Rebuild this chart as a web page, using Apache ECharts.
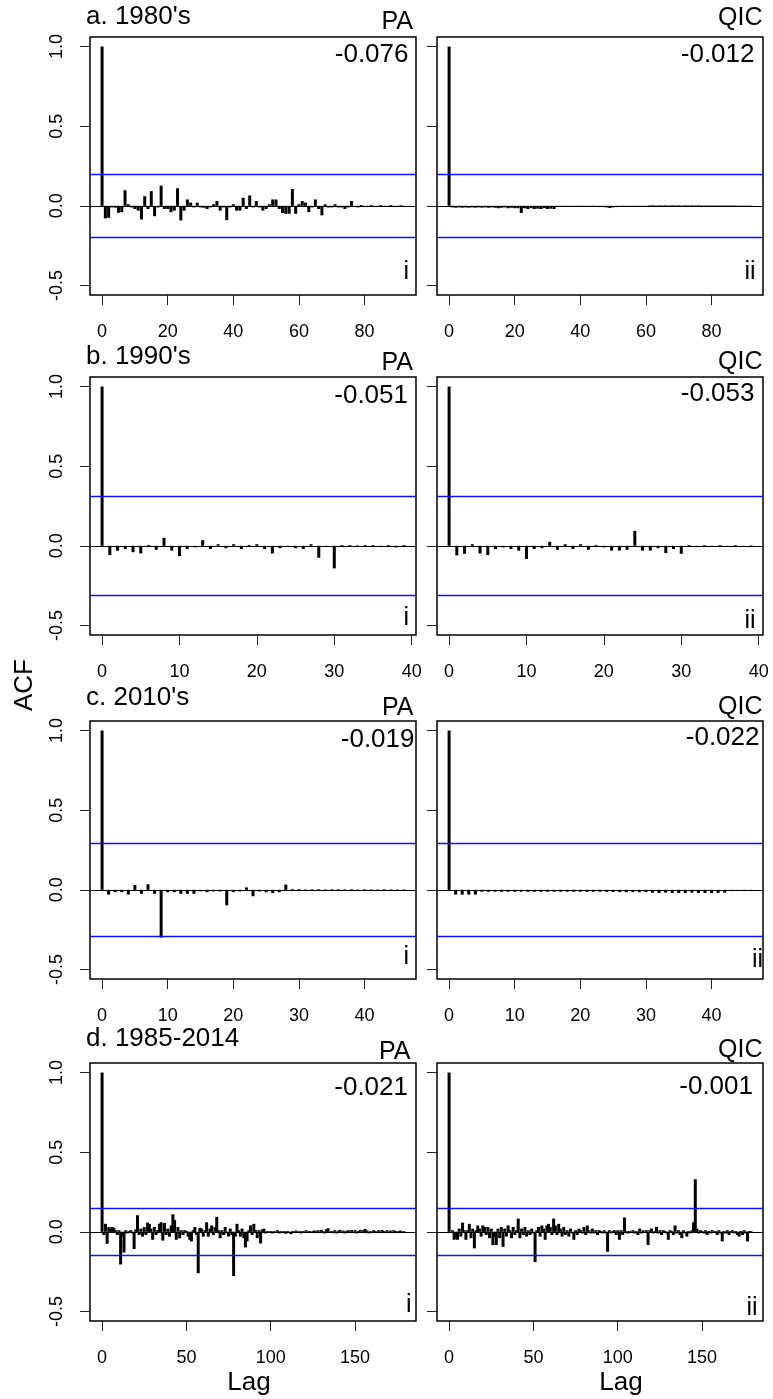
<!DOCTYPE html>
<html><head><meta charset="utf-8">
<script src="https://cdn.jsdelivr.net/npm/echarts@6/dist/echarts.min.js"></script>
<style>html,body{margin:0;padding:0;background:#fff}#c{width:773px;height:1399px}</style>
</head><body><div id="c"></div>
<script>
// ---------------- DATA ----------------
const rowTitles = ["a. 1980's", "b. 1990's", "c. 2010's", "d. 1985-2014"];
const colNames = ["PA", "QIC"];
const romanTags = ["i", "ii"];
const statLabels = [["-0.076", "-0.012"], ["-0.051", "-0.053"], ["-0.019", "-0.022"], ["-0.021", "-0.001"]];
const confLimits = [0.203, 0.31, 0.286, 0.146];
const xTickValues = [[0, 20, 40, 60, 80], [0, 10, 20, 30, 40], [0, 10, 20, 30, 40], [0, 50, 100, 150]];
const yTickValues = [-0.5, 0, 0.5, 1.0];

const acf_a_PA = [1.0, -0.079, -0.075, -0.01, -0.012, -0.044, -0.04, 0.098, 0.01, -0.01,
 -0.02, -0.03, -0.086, 0.06, -0.02, 0.092, -0.065, -0.01, 0.127, -0.02,
 -0.02, -0.04, -0.03, 0.11, -0.092, -0.03, 0.04, 0.02, -0.01, 0.02,
 -0.01, -0.012, -0.02, -0.01, 0.01, 0.03, -0.03, -0.01, -0.09, -0.01,
 0.01, -0.03, -0.03, 0.05, -0.02, 0.065, -0.01, 0.03, -0.01, -0.03,
 -0.02, 0.01, 0.04, 0.04, -0.02, -0.045, -0.05, -0.05, 0.105, -0.05,
 0.01, 0.03, 0.02, -0.04, -0.01, 0.04, -0.02, -0.06, 0.01, -0.01,
 -0.01, 0.01, -0.01, -0.01, -0.02, -0.01, 0.03, -0.005, -0.01, 0.005,
 -0.005, -0.008, 0.005, -0.005, -0.005, 0.005, -0.005, -0.005, 0.005, -0.005,
 -0.005, 0.004, -0.003];
const acf_a_QIC = [1.0, -0.01, -0.012, -0.01, -0.012, -0.01, -0.012, -0.01, -0.012, -0.01,
 -0.012, -0.01, -0.012, -0.01, -0.012, -0.015, -0.012, -0.01, -0.015, -0.012,
 -0.015, -0.015, -0.045, -0.015, -0.02, -0.015, -0.02, -0.018, -0.02, -0.015,
 -0.02, -0.018, -0.02, -0.006, -0.005, -0.006, -0.005, -0.006, -0.005, -0.006,
 -0.005, -0.006, -0.005, -0.006, -0.005, -0.006, -0.008, -0.008, -0.01, -0.014,
 -0.01, -0.008, -0.006, -0.006, -0.005, -0.006, -0.005, -0.006, -0.005, -0.004,
 -0.003, 0.003, 0.004, 0.003, 0.004, 0.003, 0.004, 0.003, 0.004, 0.003,
 0.004, 0.003, 0.004, 0.003, 0.004, 0.003, 0.004, 0.003, 0.003, 0.003,
 0.003, 0.003, 0.003, 0.003, 0.003, 0.003, 0.003, 0.003, 0.002, 0.002,
 0.002, 0.002, 0.002];
const acf_b_PA = [1.0, -0.058, -0.031, -0.02, -0.04, -0.048, 0.005, -0.025, 0.05, -0.03,
 -0.065, -0.02, -0.01, 0.035, -0.02, 0.01, -0.015, 0.01, -0.02, 0.005,
 0.01, -0.02, -0.048, -0.015, -0.005, -0.015, -0.02, 0.01, -0.075, -0.005,
 -0.142, 0.005, 0.005, 0.003, 0.005, 0.005, -0.005, 0.005, -0.01, 0.005];
const acf_b_QIC = [1.0, -0.06, -0.05, 0.01, -0.048, -0.058, -0.02, -0.01, -0.02, -0.03,
 -0.083, -0.02, -0.015, 0.025, -0.025, 0.01, -0.02, 0.01, -0.025, 0.005,
 -0.01, -0.03, -0.03, -0.025, 0.094, -0.03, -0.03, -0.015, -0.045, -0.02,
 -0.05, 0.005, -0.005, 0.005, -0.005, 0.005, -0.005, 0.005, -0.005, 0.003];
const acf_c_PA = [1.0, -0.03, -0.015, -0.015, -0.03, 0.03, -0.025, 0.035, -0.025, -0.30,
 -0.015, -0.015, -0.025, -0.025, -0.025, -0.01, -0.015, -0.01, -0.01, -0.098,
 -0.015, -0.01, 0.015, -0.04, -0.01, -0.015, -0.02, -0.015, 0.033, 0.005,
 0.005, 0.003, 0.004, 0.004, 0.003, 0.004, 0.004, 0.003, 0.004, 0.003,
 0.004, 0.003, 0.003, 0.004, 0.003, 0.003, 0.003];
const acf_c_QIC = [1.0, -0.03, -0.03, -0.03, -0.03, -0.012, -0.012, -0.012, -0.012, -0.012,
 -0.012, -0.012, -0.012, -0.012, -0.012, -0.012, -0.012, -0.012, -0.012, -0.012,
 -0.012, -0.012, -0.012, -0.012, -0.013, -0.014, -0.014, -0.015, -0.014, -0.015,
 -0.015, -0.018, -0.02, -0.018, -0.02, -0.02, -0.02, -0.018, -0.02, -0.02,
 -0.02, -0.02, -0.018, -0.008, -0.008, -0.008, -0.008];
const acf_d_PA = [1.0, -0.02, 0.05, -0.075, 0.03, 0.02, 0.03, 0.025, 0.01, -0.02,
 0.01, -0.205, -0.03, -0.13, 0.01, -0.01, 0.005, 0.01, -0.01, -0.108,
 0.015, 0.104, -0.02, 0.02, -0.03, 0.03, -0.02, 0.058, 0.05, 0.02,
 -0.05, 0.03, -0.02, 0.01, 0.05, 0.06, -0.055, 0.055, -0.02, 0.02,
 -0.03, 0.04, 0.11, 0.075, -0.05, 0.03, -0.04, 0.01, -0.02, 0.01,
 0.005, -0.03, -0.05, -0.06, 0.01, 0.03, -0.02, -0.26, 0.025, 0.02,
 -0.03, 0.01, 0.06, -0.03, 0.02, 0.04, -0.02, 0.03, 0.094, 0.01,
 -0.04, 0.01, -0.02, 0.03, -0.01, -0.03, 0.02, -0.02, -0.277, -0.03,
 0.05, 0.01, -0.03, 0.02, -0.04, -0.098, -0.06, 0.01, 0.04, -0.02,
 0.05, 0.01, -0.04, 0.01, -0.073, 0.015, 0.02, -0.01, 0.005, -0.005,
 0.005, -0.01, 0.005, -0.005, 0.01, -0.01, 0.005, -0.005, 0.005, -0.012,
 0.005, -0.005, -0.015, 0.005, -0.005, 0.008, -0.005, 0.005, -0.01, 0.005,
 -0.005, 0.01, -0.005, 0.005, -0.008, 0.005, 0.008, -0.005, 0.01, -0.008,
 0.012, 0.005, -0.01, 0.015, 0.022, -0.005, 0.005, -0.008, 0.01, -0.01,
 0.005, 0.012, -0.005, 0.008, -0.01, 0.005, 0.01, -0.008, 0.012, -0.005,
 0.01, -0.01, 0.005, 0.012, -0.005, 0.01, 0.018, 0.008, -0.01, 0.005,
 -0.008, 0.01, 0.005, -0.008, 0.01, -0.005, 0.012, 0.005, -0.008, 0.01,
 -0.005, 0.008, -0.005, 0.01, 0.005, -0.008, 0.005, 0.008, -0.005, 0.005];
const acf_d_QIC = [1.0, -0.005, 0.01, -0.05, -0.04, -0.05, 0.02, -0.03, 0.058, 0.01,
 -0.05, 0.01, 0.05, -0.04, 0.02, -0.104, 0.01, 0.04, 0.02, -0.03,
 0.04, 0.03, -0.02, 0.03, -0.04, 0.02, -0.083, -0.03, -0.083, 0.02,
 -0.04, 0.03, -0.094, 0.02, -0.03, 0.04, 0.01, -0.04, 0.03, -0.02,
 0.01, 0.083, -0.04, 0.02, -0.02, 0.03, -0.03, 0.01, -0.02, 0.02,
 -0.01, -0.19, 0.01, 0.03, -0.03, 0.04, 0.02, -0.05, 0.04, 0.05,
 0.03, -0.02, 0.083, 0.04, -0.02, 0.05, 0.02, -0.03, 0.03, -0.02,
 0.01, -0.03, 0.02, -0.01, -0.05, 0.01, -0.02, 0.02, 0.01, -0.01,
 0.03, -0.02, 0.04, 0.01, -0.01, 0.02, -0.01, 0.01, -0.02, 0.01,
 0.005, -0.01, 0.01, -0.01, -0.125, 0.01, -0.01, 0.005, 0.01, -0.02,
 0.01, -0.05, 0.01, -0.02, 0.09, 0.005, -0.01, 0.005, -0.005, 0.01,
 -0.01, 0.005, -0.02, 0.02, -0.01, 0.01, -0.005, 0.01, -0.083, 0.01,
 0.02, -0.01, 0.005, 0.03, -0.01, 0.01, -0.02, 0.01, 0.005, -0.01,
 -0.05, 0.01, 0.005, -0.02, 0.04, -0.01, 0.01, -0.02, -0.04, 0.01,
 -0.01, -0.03, 0.005, -0.01, 0.01, 0.06, 0.33, 0.02, -0.01, 0.01,
 0.005, -0.01, 0.01, -0.02, 0.005, -0.01, 0.01, -0.005, 0.005, -0.02,
 0.01, -0.01, -0.06, 0.005, -0.01, 0.01, -0.02, 0.005, 0.01, -0.01,
 0.005, -0.02, -0.03, 0.005, -0.02, 0.01, -0.01, -0.06, 0.005, 0.005];

const panelData = [[acf_a_PA, acf_a_QIC], [acf_b_PA, acf_b_QIC], [acf_c_PA, acf_c_QIC], [acf_d_PA, acf_d_QIC]];

// ---------------- LAYOUT / STYLE ----------------
const FONT = '"Liberation Sans", Arial, Helvetica, sans-serif';
const colLeft = [90, 437];
const boxW = 326, boxH = 258;
const rowTop = [37, 377, 721, 1063];
const BLUE = '#1010ff';

const titleY = [17, 357, 698, 1039];
const headY = [[21.7, 18.3], [363.3, 361.7], [708, 706.7], [1051.7, 1050]];
const headRight = [[413, 762.5], [413, 762.5], [413.5, 762.5], [410.5, 762.5]];
const statY = [[55, 55], [396, 394], [740, 738], [1088, 1087]];
const statRight = [[408.5, 754.5], [408, 754.5], [414.5, 759.5], [408, 753]];
const romanY = [[272, 272], [618, 621.5], [957, 960], [1305, 1308]];
const romanRight = [[409, 755.5], [409, 755.5], [409, 763], [411.5, 757.5]];

const grids = [], xAxes = [], yAxes = [], series = [], graphics = [];

for (let r = 0; r < 4; r++) {
  for (let c = 0; c < 2; c++) {
    const idx = r * 2 + c;
    const vals = panelData[r][c];
    const maxLag = vals.length - 1;
    grids.push({ left: colLeft[c], top: rowTop[r], width: boxW, height: boxH,
      show: true, borderColor: '#000', borderWidth: 1.5, backgroundColor: 'transparent' });
    xAxes.push({ type: 'value', gridIndex: idx, min: -0.04 * maxLag, max: 1.04 * maxLag,
      axisLine: { show: false, onZero: false },
      axisTick: { show: true, length: 10, customValues: xTickValues[r], lineStyle: { color: '#222', width: 1 } },
      axisLabel: { show: true, customValues: xTickValues[r], margin: 28, fontSize: 18, color: '#000', fontFamily: FONT },
      splitLine: { show: false } });
    yAxes.push({ type: 'value', gridIndex: idx, min: -0.56, max: 1.06,
      axisLine: { show: false, onZero: false },
      axisTick: { show: true, length: 10, customValues: yTickValues, lineStyle: { color: '#222', width: 1 } },
      axisLabel: { show: c === 0, customValues: yTickValues, rotate: 90, margin: 24, fontSize: 18,
        color: '#000', fontFamily: FONT, formatter: v => Number(v).toFixed(1) },
      splitLine: { show: false } });
    const lim = confLimits[r];
    series.push({
      type: 'custom', xAxisIndex: idx, yAxisIndex: idx, animation: false, silent: true,
      data: vals.map((v, k) => [k, v]),
      encode: { x: 0, y: 1 },
      renderItem: function (params, api) {
        const p0 = api.coord([api.value(0), 0]);
        const p1 = api.coord([api.value(0), api.value(1)]);
        return { type: 'line', shape: { x1: p0[0], y1: p0[1], x2: p1[0], y2: p1[1] },
          style: { stroke: '#000', lineWidth: 3, lineCap: 'butt' } };
      },
      markLine: { silent: true, animation: false, symbol: ['none', 'none'], label: { show: false },
        data: [
          { yAxis: 0, lineStyle: { color: '#000', width: 1, type: 'solid' } },
          { yAxis: lim, lineStyle: { color: BLUE, width: 1.4, type: 'solid' } },
          { yAxis: -lim, lineStyle: { color: BLUE, width: 1.4, type: 'solid' } }
        ] }
    });
    graphics.push({ type: 'text', x: headRight[r][c], y: headY[r][c], silent: true,
      style: { text: colNames[c], font: '25px ' + FONT, fill: '#000', align: 'right', verticalAlign: 'middle' } });
    graphics.push({ type: 'text', x: statRight[r][c], y: statY[r][c], silent: true,
      style: { text: statLabels[r][c], font: '26px ' + FONT, fill: '#000', align: 'right', verticalAlign: 'middle' } });
    graphics.push({ type: 'text', x: romanRight[r][c], y: romanY[r][c], silent: true,
      style: { text: romanTags[c], font: '25px ' + FONT, fill: '#000', align: 'right', verticalAlign: 'middle' } });
  }
  graphics.push({ type: 'text', x: 86, y: titleY[r], silent: true,
    style: { text: rowTitles[r], font: '26px ' + FONT, fill: '#000', align: 'left', verticalAlign: 'middle' } });
}
graphics.push({ type: 'text', x: 25, y: 685, rotation: Math.PI / 2, silent: true,
  style: { text: 'ACF', font: '26px ' + FONT, fill: '#000', align: 'center', verticalAlign: 'middle' } });
graphics.push({ type: 'text', x: 249, y: 1383, silent: true,
  style: { text: 'Lag', font: '26px ' + FONT, fill: '#000', align: 'center', verticalAlign: 'middle' } });
graphics.push({ type: 'text', x: 621, y: 1383, silent: true,
  style: { text: 'Lag', font: '26px ' + FONT, fill: '#000', align: 'center', verticalAlign: 'middle' } });

const chart = echarts.init(document.getElementById('c'), null, { renderer: 'canvas' });
chart.setOption({
  animation: false,
  backgroundColor: '#fff',
  grid: grids, xAxis: xAxes, yAxis: yAxes, series: series, graphic: graphics
});
</script></body></html>
